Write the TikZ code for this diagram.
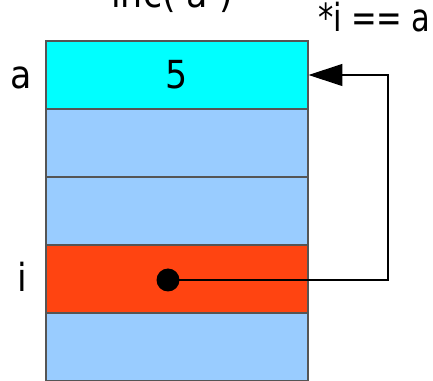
\documentclass[tikz,border=0pt]{standalone}
\usepackage{fontspec}
\setmainfont{DejaVu Sans Condensed}
\usepackage{tikz}
\usetikzlibrary{arrows.meta,positioning}

\definecolor{cellcyan}{HTML}{00FFFF}
\definecolor{cellblue}{HTML}{99CCFF}
\definecolor{cellred}{HTML}{FF4411}
\definecolor{cellline}{HTML}{555555}

\begin{document}
\begin{tikzpicture}[
    x=0.02cm,
    y=-0.02cm,
    cell/.style={draw=cellline, line width=0.6pt, minimum width=5.24cm, minimum height=1.36cm, inner sep=0pt, font=\fontsize{22}{26}\selectfont},
    lbl/.style={font=\fontsize{22}{26}\selectfont, inner sep=0pt},
    ptr/.style={line width=0.7pt, -{Triangle[length=0.68cm, width=0.44cm]}}
  ]
    \useasboundingbox (0,0) rectangle (433,381);

    % memory cells
    \node[cell, fill=cellcyan] (cellA) at (177, 75)  {5};
    \node[cell, fill=cellblue] (cell1) at (177, 143) {};
    \node[cell, fill=cellblue] (cell2) at (177, 211) {};
    \node[cell, fill=cellred]  (cellI) at (177, 279) {};
    \node[cell, fill=cellblue] (cell4) at (177, 347) {};

    % names
    \node[lbl, anchor=base] (nameA) at (21, 89)  {a};
    \node[lbl, anchor=base] (nameI) at (22, 292) {i};

    % texts on top
    \node[lbl, anchor=base] (call)  at (172, 8)  {inc( a )};
    \node[lbl, anchor=base east] (deref) at (431, 32) {\addfontfeature{FakeStretch=0.88}\spaceskip=0.24em*i == a};

    % pointer
    \node[circle, fill=black, minimum size=0.46cm, inner sep=0pt] (dot) at (168, 280) {};
    \coordinate (turn) at (388, 75);
    \draw[ptr] (dot.center) -| (turn) -- (cellA.east);
\end{tikzpicture}
\end{document}
